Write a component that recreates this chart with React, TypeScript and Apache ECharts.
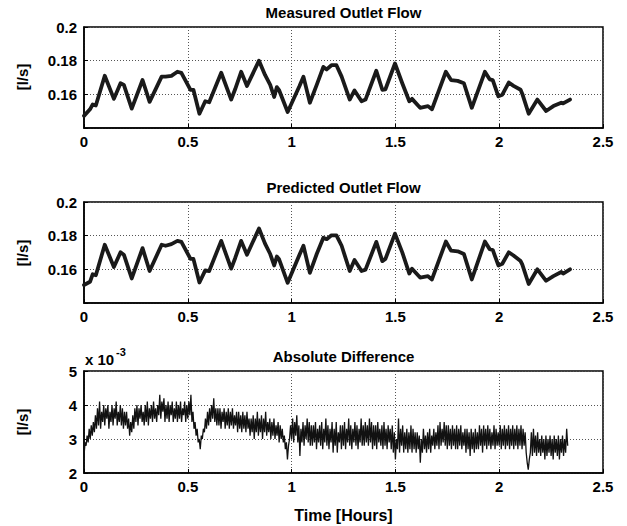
import React, { useEffect, useRef } from "react";
import * as echarts from "echarts";

// ---- Data ----
const flowTime = [0, 0.029, 0.042, 0.057, 0.1, 0.144, 0.176, 0.192, 0.23, 0.282, 0.316, 0.374, 0.393, 0.421, 0.45, 0.469, 0.513, 0.527, 0.556, 0.584, 0.603, 0.661, 0.709, 0.728, 0.757, 0.785, 0.843, 0.872, 0.897, 0.916, 0.929, 0.939, 0.981, 1.038, 1.057, 1.088, 1.121, 1.153, 1.169, 1.192, 1.216, 1.241, 1.28, 1.303, 1.337, 1.356, 1.408, 1.437, 1.452, 1.498, 1.533, 1.567, 1.58, 1.619, 1.657, 1.676, 1.743, 1.768, 1.8, 1.83, 1.868, 1.931, 1.954, 1.969, 1.996, 2.015, 2.046, 2.069, 2.103, 2.111, 2.142, 2.184, 2.226, 2.261, 2.299, 2.308, 2.341];

const measuredFlow = [0.1472, 0.1511, 0.154, 0.1534, 0.171, 0.1573, 0.1666, 0.1656, 0.1515, 0.1685, 0.1555, 0.1705, 0.1705, 0.171, 0.1734, 0.1728, 0.1627, 0.1627, 0.1485, 0.1559, 0.1553, 0.1728, 0.1569, 0.163, 0.1734, 0.165, 0.18, 0.1715, 0.1656, 0.1584, 0.1643, 0.1627, 0.1495, 0.165, 0.1705, 0.155, 0.1656, 0.1763, 0.1748, 0.1773, 0.1773, 0.1705, 0.1569, 0.1623, 0.1559, 0.1569, 0.174, 0.1627, 0.163, 0.1783, 0.1666, 0.1559, 0.1573, 0.152, 0.153, 0.1511, 0.1734, 0.1685, 0.168, 0.1666, 0.152, 0.1734, 0.1689, 0.1685, 0.1588, 0.1598, 0.167, 0.165, 0.1627, 0.1604, 0.1485, 0.1569, 0.1501, 0.153, 0.155, 0.1546, 0.1569];

const predictedFlow = [0.1507, 0.1526, 0.1571, 0.1565, 0.1746, 0.1614, 0.1701, 0.1687, 0.1546, 0.1726, 0.159, 0.1746, 0.174, 0.175, 0.1769, 0.1763, 0.1662, 0.1662, 0.1522, 0.1594, 0.159, 0.1769, 0.1604, 0.1666, 0.1769, 0.1687, 0.1843, 0.1753, 0.1691, 0.1623, 0.1676, 0.1662, 0.152, 0.1687, 0.174, 0.1579, 0.1691, 0.1788, 0.1779, 0.1802, 0.1802, 0.174, 0.159, 0.1656, 0.159, 0.1598, 0.1763, 0.1649, 0.1662, 0.1812, 0.1701, 0.1575, 0.1604, 0.1551, 0.1559, 0.154, 0.1765, 0.1711, 0.1707, 0.1691, 0.154, 0.1765, 0.172, 0.1715, 0.1623, 0.1633, 0.1701, 0.1682, 0.1649, 0.1629, 0.1513, 0.16, 0.1532, 0.156, 0.1584, 0.1575, 0.16];

// absolute difference in units of 10^-3 l/s, sampled every 0.005 h from 0 (one row = 0.05 h)
const diffStepHours = 0.005;
const absDiffMilli = [
  2.5, 2.9, 2.8, 3.1, 2.9, 3.3, 3.0, 3.4, 3.1, 3.5,
  3.2, 3.7, 3.3, 3.9, 3.4, 4.1, 3.3, 3.8, 3.5, 4.0,
  3.4, 3.9, 3.6, 4.0, 3.3, 3.8, 3.5, 4.0, 3.4, 3.9,
  3.6, 4.1, 3.4, 3.8, 3.5, 4.0, 3.4, 3.9, 3.3, 3.8,
  3.4, 3.8, 3.3, 3.6, 3.1, 3.5, 3.2, 3.7, 3.3, 3.9,
  3.5, 4.0, 3.4, 3.9, 3.6, 4.0, 3.5, 3.8, 3.4, 4.0,
  3.5, 4.1, 3.4, 3.9, 3.6, 4.0, 3.5, 4.1, 3.6, 3.9,
  3.5, 4.0, 3.7, 4.3, 3.6, 4.1, 3.8, 4.2, 3.5, 4.0,
  3.6, 4.1, 3.5, 4.0, 3.7, 4.1, 3.5, 3.9, 3.6, 4.1,
  3.5, 4.0, 3.6, 4.1, 3.5, 3.9, 3.7, 4.1, 3.5, 4.0,
  3.6, 4.1, 3.7, 4.3, 3.5, 3.8, 3.3, 3.5, 3.1, 3.3,
  2.9, 3.0, 2.7, 3.1, 3.0, 3.3, 3.2, 3.6, 3.3, 3.8,
  3.4, 3.9, 3.5, 4.0, 3.6, 4.2, 3.5, 3.9, 3.4, 3.9,
  3.4, 3.9, 3.3, 3.8, 3.5, 3.9, 3.3, 3.8, 3.4, 3.9,
  3.3, 3.8, 3.4, 3.9, 3.3, 3.7, 3.4, 3.8, 3.2, 3.8,
  3.3, 3.7, 3.2, 3.8, 3.3, 3.7, 3.2, 3.8, 3.3, 3.6,
  3.1, 3.6, 3.2, 3.7, 3.0, 3.6, 3.2, 3.8, 3.1, 3.6,
  3.2, 3.7, 3.0, 3.6, 3.2, 3.8, 3.1, 3.5, 3.2, 3.6,
  3.0, 3.5, 3.1, 3.6, 3.0, 3.4, 3.1, 3.5, 2.9, 3.4,
  3.0, 3.3, 2.9, 3.1, 2.7, 2.9, 2.4, 2.8, 3.0, 3.4,
  3.0, 3.6, 2.9, 3.5, 3.1, 3.7, 2.9, 3.4, 2.5, 3.3,
  2.9, 3.5, 2.8, 3.4, 3.0, 3.6, 2.9, 3.5, 2.8, 3.4,
  2.8, 3.4, 2.9, 3.5, 2.7, 3.3, 2.9, 3.4, 2.8, 3.5,
  2.7, 3.3, 2.9, 3.6, 2.8, 3.4, 2.7, 3.3, 2.9, 3.5,
  2.6, 3.3, 2.8, 3.5, 2.6, 3.2, 2.9, 3.4, 2.7, 3.4,
  2.8, 3.5, 2.7, 3.3, 2.9, 3.6, 2.8, 3.4, 2.7, 3.3,
  2.9, 3.5, 2.8, 3.4, 2.7, 3.3, 2.9, 3.6, 2.8, 3.4,
  2.8, 3.5, 2.9, 3.4, 2.8, 3.6, 2.9, 3.5, 2.7, 3.4,
  2.8, 3.4, 2.7, 3.5, 2.9, 3.3, 2.8, 3.4, 2.7, 3.5,
  2.8, 3.3, 2.7, 3.4, 2.9, 3.3, 2.7, 3.4, 2.6, 3.2,
  2.4, 3.0, 2.7, 3.6, 2.6, 3.3, 2.8, 3.4, 2.6, 3.2,
  2.7, 3.3, 2.6, 3.2, 2.7, 3.4, 2.6, 3.3, 2.7, 3.2,
  2.6, 3.2, 2.7, 3.1, 2.3, 3.0, 2.6, 3.3, 2.7, 3.1,
  2.6, 3.2, 2.7, 3.3, 2.6, 3.1, 2.8, 3.3, 2.7, 3.2,
  2.8, 3.4, 2.7, 3.5, 2.8, 3.3, 2.9, 3.5, 2.8, 3.4,
  2.7, 3.4, 2.8, 3.3, 2.7, 3.4, 2.8, 3.3, 2.7, 3.4,
  2.7, 3.3, 2.8, 3.4, 2.7, 3.2, 2.8, 3.3, 2.6, 3.3,
  2.7, 3.2, 2.5, 3.3, 2.7, 3.2, 2.6, 3.3, 2.7, 3.2,
  2.7, 3.4, 2.8, 3.3, 2.6, 3.4, 2.8, 3.3, 2.7, 3.4,
  2.8, 3.3, 2.7, 3.2, 2.8, 3.4, 2.7, 3.3, 2.8, 3.2,
  2.8, 3.4, 2.7, 3.3, 2.8, 3.4, 2.7, 3.3, 2.8, 3.4,
  2.7, 3.3, 2.8, 3.4, 2.7, 3.3, 2.8, 3.4, 2.7, 3.3,
  2.8, 3.4, 2.7, 3.3, 2.8, 3.2, 2.6, 2.3, 2.1, 2.4,
  2.6, 3.2, 2.5, 3.3, 2.6, 3.1, 2.5, 3.2, 2.6, 3.0,
  2.5, 3.1, 2.6, 3.0, 2.4, 3.1, 2.5, 3.0, 2.6, 3.1,
  2.5, 3.0, 2.4, 3.1, 2.6, 3.0, 2.5, 3.1, 2.4, 3.0,
  2.6, 3.1, 2.5, 3.0, 2.6, 3.3, 2.8,
];

const titles = ["Measured Outlet Flow", "Predicted Outlet Flow", "Absolute Difference"];
const xTickInterval = 0.5;
const xMin = 0;
const xMax = 2.5;

const FONT = '"Liberation Sans", Arial, Helvetica, sans-serif';

export default function App() {
  const ref = useRef<HTMLDivElement>(null);

  useEffect(() => {
    if (!ref.current) return;
    const chart = echarts.init(ref.current, null, { renderer: "svg" });

    const L = 84;
    const R = 603;
    const W = R - L;
    const tops = [27, 202, 371];
    const H = 101;

    const grids = tops.map((t) => ({
      left: L,
      top: t,
      width: W,
      height: t === 371 ? 102 : H,
      show: true,
      borderColor: "#000",
      borderWidth: 1.5,
      backgroundColor: "#fff",
      containLabel: false,
    }));

    const gridLine = { show: true, lineStyle: { color: "#555", type: [1, 2] as any, width: 1 } };
    const labelStyle = { color: "#000", fontFamily: FONT, fontWeight: "bold" as const, fontSize: 15 };

    const xAxes = [0, 1, 2].map((i) => ({
      type: "value" as const,
      gridIndex: i,
      min: xMin,
      max: xMax,
      interval: xTickInterval,
      axisLine: { show: true, onZero: false, lineStyle: { color: "#000", width: 1.5 } },
      axisTick: { show: true, inside: true, length: 4, lineStyle: { color: "#000" } },
      axisLabel: { ...labelStyle, margin: 6, formatter: (v: number) => String(+v.toFixed(1)) },
      splitLine: gridLine,
    }));

    const yAxes = [
      {
        type: "value" as const,
        gridIndex: 0,
        min: 0.14,
        max: 0.2,
        interval: 0.02,
        axisLabel: { ...labelStyle, margin: 7, formatter: (v: number) => (v < 0.145 ? "" : String(+v.toFixed(2))) },
      },
      {
        type: "value" as const,
        gridIndex: 1,
        min: 0.14,
        max: 0.2,
        interval: 0.02,
        axisLabel: { ...labelStyle, margin: 7, formatter: (v: number) => (v < 0.145 ? "" : String(+v.toFixed(2))) },
      },
      {
        type: "value" as const,
        gridIndex: 2,
        min: 2,
        max: 5,
        interval: 1,
        axisLabel: { ...labelStyle, margin: 7, formatter: (v: number) => String(Math.round(v)) },
      },
    ].map((a) => ({
      ...a,
      axisLine: { show: true, lineStyle: { color: "#000", width: 1.5 } },
      axisTick: { show: true, inside: true, length: 4, lineStyle: { color: "#000" } },
      splitLine: gridLine,
    }));

    const measured = flowTime.map((t, i) => [t, measuredFlow[i]]);
    const predicted = flowTime.map((t, i) => [t, predictedFlow[i]]);
    const diff = absDiffMilli.map((v, i) => [+(i * diffStepHours).toFixed(3), v]);

    const cx = L + W / 2;
    const titleYs = [12, 187, 356];
    const textStyle = (text: string, size: number) => ({
      text,
      font: `bold ${size}px ${FONT}`,
      fill: "#000",
      textAlign: "center",
      textVerticalAlign: "middle",
    });

    const graphic: any[] = [];
    titles.forEach((t, i) => {
      graphic.push({ type: "text", x: cx, y: titleYs[i], style: textStyle(t, 15), z: 10 });
    });
    const ylabYs = [77, 253, 422];
    ylabYs.forEach((y) => {
      graphic.push({ type: "text", x: 22, y, rotation: Math.PI / 2, style: textStyle("[l/s]", 15), z: 10 });
    });
    graphic.push({
      type: "text",
      x: 85,
      y: 359,
      style: { text: "x 10", font: `bold 15px ${FONT}`, fill: "#000", textAlign: "left", textVerticalAlign: "middle" },
    });
    graphic.push({
      type: "text",
      x: 116,
      y: 352,
      style: { text: "-3", font: `bold 11px ${FONT}`, fill: "#000", textAlign: "left", textVerticalAlign: "middle" },
    });
    graphic.push({ type: "text", x: cx, y: 515, style: textStyle("Time [Hours]", 16), z: 10 });

    chart.setOption({
      animation: false,
      backgroundColor: "#fff",
      grid: grids,
      xAxis: xAxes,
      yAxis: yAxes,
      graphic,
      series: [
        {
          type: "line",
          xAxisIndex: 0,
          yAxisIndex: 0,
          data: measured,
          showSymbol: false,
          lineStyle: { color: "#1a1a1a", width: 3.8, join: "round", cap: "round" },
        },
        {
          type: "line",
          xAxisIndex: 1,
          yAxisIndex: 1,
          data: predicted,
          showSymbol: false,
          lineStyle: { color: "#1a1a1a", width: 3.8, join: "round", cap: "round" },
        },
        {
          type: "line",
          xAxisIndex: 2,
          yAxisIndex: 2,
          data: diff,
          showSymbol: false,
          lineStyle: { color: "#111", width: 1.3 },
        },
      ],
    });

    return () => chart.dispose();
  }, []);

  return <div ref={ref} style={{ position: "fixed", left: 0, top: 0, width: 627, height: 526 }} />;
}
